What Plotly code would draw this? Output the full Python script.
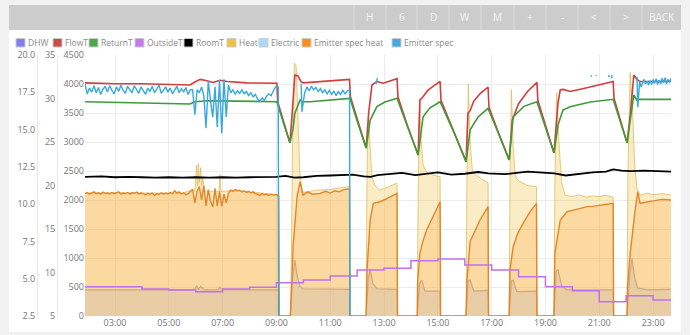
import plotly.graph_objects as go
import pandas as pd

DAY = "2024-01-01 "

# ---------------- data ----------------
# steady-running period sampled every 5 minutes from 01:53 (86 samples)
p1_times = [t.strftime("%H:%M") for t in pd.date_range(DAY + "01:53", periods=86, freq="5min")]

spec_p1 = [4000, 3830, 3930, 3860, 3970, 3850, 3940, 3820, 3910, 3960,
           3860, 3970, 3890, 3830, 3950, 3870, 3980, 3890, 3840, 3960,
           3900, 3850, 3970, 3910, 3840, 3950, 3880, 3820, 3930, 3870,
           3960, 3850, 3910, 3980, 3840, 3900, 3950, 3860, 3930, 3830,
           3900, 3960, 3850, 3920, 3860, 3940, 3820, 3900,
           3900, 3470, 3900, 3850, 3950, 3800, 3240, 4050, 3700, 3430, 3950, 3260, 4070, 3150, 4080, 3430, 3980,
           3850, 3900, 3820, 3880, 3840, 3900, 3830, 3870, 3800, 3850, 3780, 3820, 3740, 3700, 3760, 3720, 3790, 3830, 3800, 3880, 3950]

spec_heat_p1 = [2110, 2130, 2100, 2120, 2140, 2110, 2125, 2100, 2135, 2115,
                2120, 2105, 2130, 2110, 2125, 2140, 2105, 2120, 2110, 2130,
                2100, 2125, 2115, 2135, 2105, 2120, 2110, 2090, 2115, 2100,
                2120, 2080, 2110, 2095, 2125, 2100, 2120, 2105, 2130, 2110,
                2160, 2120, 2140, 2105, 2125, 2090, 2110, 2150,
                2180, 1950, 2150, 2230, 2000, 2250, 1900, 2180, 1980, 1880, 2200, 1900, 2150, 1890, 2100, 1950, 2120,
                2170, 2150, 2180, 2160, 2170, 2140, 2160, 2130, 2150, 2120, 2140, 2110, 2100, 2080, 2110, 2090, 2100, 2080, 2100, 2085, 2090]

flow_times = ["01:53", "03:00", "04:00", "05:00", "05:47", "05:58", "06:10", "06:25", "06:39", "06:54", "07:10", "07:54", "08:30", "09:01",
              "09:03", "09:15", "09:30", "09:34", "09:41", "09:48", "09:55", "10:00", "10:30", "11:00", "11:30", "11:43",
              "11:45", "12:02", "12:20", "12:26", "12:33", "12:44", "12:58", "13:15", "13:29",
              "13:31", "13:52", "14:16", "14:20", "14:27", "14:37", "14:49", "15:05",
              "15:07", "15:35", "16:03", "16:07", "16:12", "16:20", "16:35", "16:52",
              "16:54", "17:15", "17:39", "17:46", "18:00", "18:20", "18:41",
              "18:43", "19:00", "19:19", "19:28", "19:33", "19:40", "19:55", "20:30", "21:00", "21:31",
              "21:33", "21:46", "22:02", "22:09", "22:17", "22:24", "22:31", "23:00", "23:40"]
flow_vals = [31.8, 31.7, 31.7, 31.6, 31.55, 31.9, 32.2, 32.05, 31.85, 32.1, 31.95, 31.8, 31.8, 31.75,
             29.6, 27.4, 24.9, 27.5, 32.7, 32.6, 31.9, 31.8, 31.9, 32.0, 32.1, 32.2,
             30.2, 27.2, 24.3, 28.5, 31.55, 31.95, 31.75, 32.05, 32.3,
             30.2, 26.9, 23.5, 29.8, 30.2, 30.9, 31.4, 31.95,
             29.8, 26.3, 22.75, 28.3, 28.6, 29.7, 30.6, 31.3,
             29.0, 26.1, 22.95, 27.5, 29.4, 30.8, 31.85,
             29.8, 26.9, 23.75, 29.5, 31.0, 31.05, 30.8, 31.2, 31.6, 31.95,
             30.0, 27.7, 24.9, 28.0, 32.7, 32.2, 31.95, 31.95, 31.95]

return_times = ["01:53", "03:00", "04:00", "05:00", "05:47", "05:58", "06:25", "07:30", "08:30", "09:01",
                "09:15", "09:30", "09:37", "09:41", "09:53", "09:57", "10:15", "11:00", "11:44",
                "12:02", "12:20", "12:29", "12:44", "13:02", "13:29",
                "13:52", "14:16", "14:27", "14:42", "15:05",
                "15:35", "16:03", "16:12", "16:30", "16:52",
                "17:15", "17:39", "17:48", "18:12", "18:41",
                "19:00", "19:19", "19:28", "19:39", "19:55", "20:40", "21:31",
                "21:46", "22:02", "22:09", "22:17", "22:24", "22:31", "23:40"]
return_vals = [29.63, 29.55, 29.5, 29.45, 29.37, 29.63, 29.75, 29.7, 29.65, 29.63,
               27.3, 24.9, 26.5, 28.3, 29.83, 29.63, 29.63, 29.8, 30.02,
               27.1, 24.3, 27.5, 29.06, 29.6, 30.02,
               26.8, 23.5, 27.9, 28.9, 29.63,
               26.2, 22.75, 26.4, 27.9, 28.87,
               26.0, 22.95, 27.9, 29.1, 29.63,
               26.8, 23.75, 26.95, 28.68, 29.06, 29.6, 29.91,
               27.5, 24.9, 27.5, 30.4, 29.8, 29.91, 29.9]

room_times = ["01:53", "02:30", "03:00", "03:30", "04:00", "04:30", "05:00", "05:30", "06:00", "06:30",
              "07:00", "07:30", "08:00", "08:30", "09:00", "09:20", "09:40", "10:00", "10:30", "11:00",
              "11:30", "11:50", "12:15", "12:30", "12:45", "13:15", "13:40", "14:10", "14:30", "15:00",
              "15:30", "16:00", "16:30", "16:52", "17:30", "18:00", "18:20", "18:45", "19:20", "19:45",
              "20:15", "20:45", "21:15", "21:31", "21:50", "22:10", "22:40", "23:10", "23:40"]
room_vals = [21.0, 21.05, 20.95, 21.0, 20.95, 20.9, 20.95, 20.9, 20.95, 20.9,
             20.95, 20.9, 20.95, 20.95, 21.0, 21.1, 20.9, 20.95, 21.1, 21.15,
             21.2, 21.25, 21.05, 21.0, 21.2, 21.3, 21.45, 21.2, 21.35, 21.5,
             21.25, 21.35, 21.55, 21.4, 21.3, 21.45, 21.6, 21.5, 21.4, 21.15,
             21.35, 21.5, 21.6, 21.85, 21.7, 21.65, 21.7, 21.65, 21.6]

outside_times = ["01:53", "04:00", "05:00", "06:00", "07:00", "08:00", "09:00", "10:00", "11:00", "12:00", "13:00",
                 "14:00", "15:00", "16:00", "17:00", "18:00", "19:00", "20:00", "21:00", "22:00", "23:00", "23:40"]
outside_vals = [4.46, 4.31, 4.24, 4.13, 4.31, 4.42, 4.73, 4.91, 5.18, 5.58, 5.70,
                6.21, 6.32, 5.92, 5.58, 5.14, 4.46, 4.20, 3.46, 3.86, 3.57, 3.57]

heat_times = ["01:53", "02:30", "03:00", "03:30", "04:00", "04:30", "05:00", "05:30",
              "05:55", "05:58", "06:02", "06:04", "06:06", "06:08", "06:11", "06:13", "06:16", "06:19",
              "06:40", "06:52", "06:54", "06:56", "07:30", "08:00", "08:30", "09:01", "09:05", "09:06",
              "09:31", "09:33", "09:36", "09:40", "09:44", "09:48", "09:52", "09:56", "10:00", "10:30", "11:00", "11:30", "11:43", "11:44",
              "12:20", "12:22", "12:25", "12:29", "12:33", "12:40", "12:51", "13:10", "13:27", "13:29", "13:30",
              "14:14", "14:16", "14:19", "14:23", "14:27", "14:35", "14:49", "15:05", "15:06",
              "16:03", "16:05", "16:08", "16:12", "16:17", "16:27", "16:40", "16:52", "16:53",
              "17:39", "17:41", "17:44", "17:48", "17:53", "18:00", "18:20", "18:40", "18:41",
              "19:19", "19:21", "19:25", "19:30", "19:36", "19:44", "20:00", "20:15", "20:30", "20:45", "21:00", "21:15", "21:31", "21:32",
              "22:02", "22:04", "22:09", "22:14", "22:19", "22:24", "22:31", "22:47", "23:00", "23:20", "23:40"]
heat_vals = [2120, 2125, 2120, 2125, 2120, 2115, 2120, 2115,
             2180, 2150, 2600, 2250, 2620, 2300, 2560, 2250, 2380, 2150,
             2150, 2150, 2440, 2150, 2160, 2140, 2110, 2095, 2075, 0,
             0, 800, 3000, 4360, 4300, 3500, 2500, 2200, 2130, 2170, 2180, 2220, 2230, 0,
             0, 2500, 3500, 2900, 2400, 2250, 2170, 2230, 2290, 2290, 0,
             0, 2000, 3750, 3000, 2600, 2480, 2430, 2400, 0,
             0, 2500, 4000, 3000, 2500, 2420, 2350, 2300, 0,
             0, 2400, 3900, 2900, 2400, 2330, 2250, 2230, 0,
             0, 2300, 3850, 3000, 2300, 2080, 2060, 2090, 2050, 2070, 2060, 2080, 2050, 0,
             0, 2500, 4200, 3600, 2600, 2200, 2080, 2120, 2090, 2110, 2086]

elec_times = ["01:53", "03:00", "04:00", "05:00", "05:50", "05:58", "06:02", "06:06", "06:11", "06:16", "06:20",
              "06:50", "06:54", "06:58", "07:30", "08:30", "09:01", "09:05", "09:06",
              "09:31", "09:35", "09:41", "09:46", "09:52", "09:58", "10:30", "11:00", "11:43", "11:44",
              "12:20", "12:25", "12:29", "12:35", "12:44", "13:29", "13:30",
              "14:14", "14:19", "14:24", "14:31", "15:05", "15:06",
              "16:03", "16:07", "16:12", "16:20", "16:52", "16:53",
              "17:39", "17:44", "17:48", "17:56", "18:40", "18:41",
              "19:19", "19:24", "19:28", "19:36", "19:48", "20:30", "21:31", "21:32",
              "22:02", "22:08", "22:13", "22:19", "22:26", "22:47", "23:40"]
elec_vals = [450, 450, 445, 450, 450, 470, 520, 460, 510, 470, 450,
             455, 500, 455, 450, 450, 450, 440, 0,
             0, 600, 965, 700, 520, 470, 465, 465, 460, 0,
             0, 650, 800, 560, 470, 460, 0,
             0, 560, 620, 430, 430, 0,
             0, 600, 620, 430, 440, 0,
             0, 600, 620, 420, 430, 0,
             0, 780, 800, 520, 450, 455, 450, 0,
             0, 700, 995, 650, 480, 450, 460]

sh_times = ["09:01", "09:05", "09:06", "09:31", "09:33", "09:37", "09:46", "09:53", "09:59", "10:10",
            "10:20", "10:37", "10:50", "11:00", "11:10", "11:20", "11:30", "11:40", "11:43", "11:44",
            "12:20", "12:22", "12:29", "12:36", "12:51", "13:05", "13:15", "13:27", "13:29", "13:30",
            "14:14", "14:15", "14:20", "14:27", "14:35", "14:49", "14:57", "15:05", "15:06",
            "16:03", "16:05", "16:12", "16:27", "16:34", "16:52", "16:53",
            "17:39", "17:41", "17:48", "17:58", "18:10", "18:25", "18:40", "18:41",
            "19:19", "19:21", "19:33", "19:48", "20:00", "20:15", "20:33", "20:45", "21:00", "21:15", "21:31", "21:32",
            "22:02", "22:03", "22:09", "22:20", "22:26", "22:31", "22:47", "23:00", "23:20", "23:40"]
sh_vals = [2090, 2070, 0, 0, 300, 1195, 2057, 2315, 2086, 2140,
           2100, 2115, 2150, 2120, 2160, 2140, 2180, 2190, 2190, 0,
           0, 793, 1655, 1943, 1970, 2020, 2060, 2115, 2115, 0,
           0, 600, 1086, 1300, 1483, 1712, 1850, 1970, 0,
           0, 621, 1285, 1540, 1655, 1885, 0,
           0, 793, 1195, 1420, 1598, 1790, 1943, 0,
           0, 1081, 1655, 1798, 1820, 1850, 1885, 1890, 1910, 1920, 1943, 0,
           0, 505, 1081, 1827, 2143, 1943, 1970, 1985, 2010, 2000]

spec_times = ["09:04", "09:05", "09:06",
              "09:55", "09:57", "10:00", "10:03", "10:08", "10:13", "10:18", "10:23", "10:28", "10:33",
              "10:38", "10:43", "10:48", "10:53", "10:58", "11:03", "11:08", "11:13", "11:18", "11:23",
              "11:28", "11:33", "11:38", "11:43", "11:44", "11:45",
              "12:42", "12:45", "12:46",
              "20:41", "20:43", "20:44", "20:52", "20:54", "20:55", "21:20", "21:23", "21:24", "21:27", "21:29", "21:30",
              "22:22", "22:24", "22:26", "22:28", "22:30", "22:33", "22:36", "22:40", "22:43", "22:47",
              "22:50", "22:53", "22:57", "23:00", "23:03", "23:07", "23:10", "23:13", "23:17", "23:20",
              "23:23", "23:27", "23:30", "23:33", "23:37", "23:40"]
spec_vals = [3950, 0, None,
             4000, 3520, 3700, 3850, 3950, 3880, 3960, 3900, 3940, 3870,
             3920, 3850, 3900, 3830, 3890, 3820, 3880, 3800, 3870, 3820,
             3890, 3830, 3880, 3900, 0, None,
             4000, 4100, None,
             4150, 4130, None, 4140, 4150, None, 4150, 4120, None, 4100, 4150, None,
             4100, 4120, 3600, 3900, 4050, 3950, 4000, 4080, 4000, 4050,
             3980, 4060, 3990, 4080, 4010, 4090, 3990, 4070, 4000, 4100,
             4020, 4110, 4000, 4080, 4030, 4100]

legend_names = ["DHW", "FlowT", "ReturnT", "OutsideT", "RoomT", "Heat", "Electric", "Emitter spec heat", "Emitter spec"]
buttons = ["H", "6", "D", "W", "M", "+", "-", "<", ">", "BACK"]

# ---------------- styling / layout ----------------
legend_colors = ["#7f7ff2", "#cb4b4b", "#4da74d", "#c07cf5", "#000000", "#edc240", "#afd8f8", "#ff8c1a", "#45a8df"]
legend_x = [16, 53, 89, 135, 184, 227, 259, 302, 392]
button_edges = [354, 386, 417, 449, 481, 514, 546, 578, 610, 642, 681]

W, H = 690, 335
ML, MR, MT, MB = 0, 19, 55, 19
PW = W - ML - MR
PH = H - MT - MB


def px(x):
    return (x - ML) / PW


def py(y):
    return (H - MB - y) / PH


def T(lst):
    return [DAY + t for t in lst]


fig = go.Figure()
fig.add_trace(go.Scatter(x=T(heat_times), y=heat_vals, yaxis="y", mode="lines",
                         line=dict(color="rgba(222,188,95,0.8)", width=1),
                         fill="tozeroy", fillcolor="rgba(237,194,64,0.30)", hoverinfo="skip"))
fig.add_trace(go.Scatter(x=T(elec_times), y=elec_vals, yaxis="y", mode="lines",
                         line=dict(color="#c4ae98", width=1.2),
                         fill="tozeroy", fillcolor="rgba(175,190,215,0.30)", hoverinfo="skip"))
fig.add_trace(go.Scatter(x=T(p1_times + sh_times), y=spec_heat_p1 + sh_vals, yaxis="y", mode="lines",
                         line=dict(color="#e3862a", width=1.4),
                         fill="tozeroy", fillcolor="rgba(255,145,30,0.22)", hoverinfo="skip"))
fig.add_trace(go.Scatter(x=T(flow_times), y=flow_vals, yaxis="y2", mode="lines",
                         line=dict(color="#d23d3d", width=1.6), hoverinfo="skip"))
fig.add_trace(go.Scatter(x=T(return_times), y=return_vals, yaxis="y2", mode="lines",
                         line=dict(color="#3f9b3a", width=1.6), hoverinfo="skip"))
fig.add_trace(go.Scatter(x=T(room_times), y=room_vals, yaxis="y2", mode="lines",
                         line=dict(color="#000000", width=1.8), hoverinfo="skip"))
fig.add_trace(go.Scatter(x=T(outside_times), y=outside_vals, yaxis="y3", mode="lines",
                         line=dict(color="#c070f0", width=1.5, shape="hv"), hoverinfo="skip"))
fig.add_trace(go.Scatter(x=T(p1_times + spec_times), y=spec_p1 + spec_vals, yaxis="y4", mode="lines",
                         line=dict(color="#38a8e0", width=1.4), connectgaps=False, hoverinfo="skip"))

tickfont = dict(family="Open Sans", size=9, color="#777777")
shapes = [
    dict(type="rect", xref="paper", yref="paper", x0=px(9), x1=px(681), y0=py(332), y1=py(5),
         fillcolor="#ffffff", line=dict(width=0), layer="below"),
    dict(type="rect", xref="paper", yref="paper", x0=px(9), x1=px(681), y0=py(30), y1=py(5),
         fillcolor="#cccccc", line=dict(width=0), layer="below"),
]
for xe in button_edges[:-1]:
    shapes.append(dict(type="line", xref="paper", yref="paper", x0=px(xe), x1=px(xe), y0=py(30), y1=py(5),
                       line=dict(color="#dcdcdc", width=1), layer="below"))
annotations = []
for i, lab in enumerate(buttons):
    cx = (button_edges[i] + button_edges[i + 1]) / 2
    annotations.append(dict(xref="paper", yref="paper", x=px(cx), y=py(17.5), text=lab, showarrow=False,
                            xanchor="center", yanchor="middle",
                            font=dict(family="Open Sans", size=10, color="#f6f6f6")))
for name, col, bx in zip(legend_names, legend_colors, legend_x):
    shapes.append(dict(type="rect", xref="paper", yref="paper", x0=px(bx), x1=px(bx + 9), y0=py(47), y1=py(38.5),
                       fillcolor=col, line=dict(color="#cccccc", width=1), layer="below"))
    annotations.append(dict(xref="paper", yref="paper", x=px(bx + 11), y=py(42.5), text=name, showarrow=False,
                            xanchor="left", yanchor="middle", borderpad=0,
                            font=dict(family="Open Sans", size=8.5, color="#8a8a8a")))

fig.update_layout(
    width=W, height=H, margin=dict(l=ML, r=MR, t=MT, b=MB, pad=0),
    paper_bgcolor="#f2f2f2", plot_bgcolor="rgba(0,0,0,0)",
    showlegend=False, font=dict(family="Open Sans", size=9, color="#777777"),
    shapes=shapes, annotations=annotations,
    xaxis=dict(type="date", domain=[px(85), 1], range=[DAY + "01:53", DAY + "23:40"],
               tick0=DAY + "01:00", dtick=7200000, tickformat="%H:%M",
               showgrid=True, gridcolor="#ececec", gridwidth=1, zeroline=False, showline=False,
               ticks="", tickfont=tickfont),
    yaxis=dict(range=[0, 4500], dtick=500, showgrid=True, gridcolor="#ececec", zeroline=False,
               showline=False, ticks="", tickfont=tickfont),
    yaxis2=dict(range=[5, 35], dtick=5, overlaying="y", anchor="free", position=px(57), side="left",
                showgrid=False, zeroline=False, showline=True, linecolor="#e8e8e8", linewidth=1,
                ticks="", tickfont=tickfont),
    yaxis3=dict(range=[2.5, 20], dtick=2.5, tickformat=".1f", overlaying="y", anchor="free", position=px(37),
                side="left", showgrid=False, zeroline=False, showline=True, linecolor="#e8e8e8", linewidth=1,
                ticks="", tickfont=tickfont),
    yaxis4=dict(range=[0, 4500], overlaying="y", visible=False),
)

fig.write_html("out.html")
